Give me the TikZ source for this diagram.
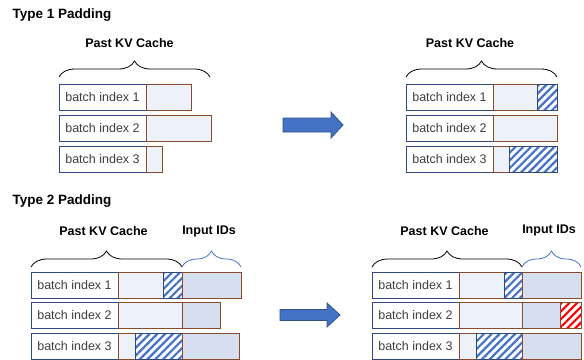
\documentclass[tikz,border=0pt]{standalone}
\usepackage{fontspec}
\setmainfont{Liberation Sans}
\usetikzlibrary{positioning,decorations.pathreplacing,patterns.meta}
\definecolor{navy}{HTML}{2F4A7A}
\definecolor{kvedge}{HTML}{8A4B2A}
\definecolor{kvfill}{HTML}{EDF1F9}
\definecolor{idsfill}{HTML}{D6DFF0}
\definecolor{padblue}{HTML}{4472C4}
\definecolor{arrowedge}{HTML}{2F528F}
\definecolor{txtgray}{HTML}{3F3F3F}
\tikzset{
  cell/.style={draw, line width=1pt, minimum height=26pt, inner sep=0pt, outer sep=0pt},
  idx/.style={cell, draw=navy, fill=white, minimum width=87pt, text=txtgray,
    font=\fontsize{12.5}{13}\selectfont},
  kv/.style={cell, draw=kvedge, fill=kvfill},
  ids/.style={cell, draw=kvedge, fill=idsfill},
  pad/.style={cell, draw=navy, pattern={Lines[angle=45,distance=5.5pt,line width=2.2pt]}, pattern color=padblue},
  padred/.style={cell, draw=kvedge, pattern={Lines[angle=45,distance=5.5pt,line width=2.2pt]}, pattern color=red},
  brc/.style={decorate, decoration={brace, amplitude=16pt}, line width=0.8pt},
  hdr/.style={font=\bfseries\fontsize{12.5}{14}\selectfont},
  ttl/.style={anchor=west, font=\bfseries\fontsize{13.5}{15}\selectfont},
  bigarrow/.style={fill=padblue, draw=arrowedge, line width=0.8pt},
}
\begin{document}
\begin{tikzpicture}[x=1pt,y=-1pt]
\useasboundingbox (0,0) rectangle (584,359);
\clip (0,0) rectangle (584,359);

% type 1
\node[ttl] (t1) at (9,15) {Type 1 Padding};

\node[hdr] (h1) at (129.5,43) {Past KV Cache};
\coordinate (bl1) at (59,77);
\coordinate (br1) at (210,77);
\draw[brc] (bl1) -- (br1);

\node[idx, anchor=north west] (a1) at (59,84) {batch index 1};
\node[kv, minimum width=45pt, right=0pt of a1] (b1) {};
\node[idx, anchor=north west] (a2) at (59,115) {batch index 2};
\node[kv, minimum width=65pt, right=0pt of a2] (b2) {};
\node[idx, anchor=north west] (a3) at (59,146) {batch index 3};
\node[kv, minimum width=16pt, right=0pt of a3] (b3) {};

\draw[bigarrow] (283,118) -- (331,118) -- (331,112) -- (343,125)
  -- (331,138) -- (331,132) -- (283,132) -- cycle;

\node[hdr] (h2) at (470,43) {Past KV Cache};
\coordinate (bl2) at (406,77);
\coordinate (br2) at (557,77);
\draw[brc] (bl2) -- (br2);

\node[idx, anchor=north west] (c1) at (406,84) {batch index 1};
\node[kv, minimum width=44pt, right=0pt of c1] (d1) {};
\node[pad, minimum width=20pt, right=0pt of d1] (e1) {};
\node[idx, anchor=north west] (c2) at (406,115) {batch index 2};
\node[kv, minimum width=64pt, right=0pt of c2] (d2) {};
\node[idx, anchor=north west] (c3) at (406,146) {batch index 3};
\node[kv, minimum width=16pt, right=0pt of c3] (d3) {};
\node[pad, minimum width=48pt, right=0pt of d3] (e3) {};

% type 2
\node[ttl] (t2) at (9,201) {Type 2 Padding};

\node[hdr] (h3) at (103.5,231) {Past KV Cache};
\node[hdr] (h4) at (209,231) {Input IDs};
\coordinate (bl3) at (31,267);
\coordinate (bm3) at (182,267);
\coordinate (br3) at (241,267);
\draw[brc] (bl3) -- (bm3);
\draw[brc, padblue] (bm3) -- (br3);

\node[idx, anchor=north west] (f1) at (31,272) {batch index 1};
\node[kv, minimum width=45pt, right=0pt of f1] (g1) {};
\node[pad, minimum width=19pt, right=0pt of g1] (p1) {};
\node[ids, minimum width=59pt, right=0pt of p1] (i1) {};
\node[idx, anchor=north west] (f2) at (31,302.5) {batch index 2};
\node[kv, minimum width=64pt, right=0pt of f2] (g2) {};
\node[ids, minimum width=38pt, right=0pt of g2] (i2) {};
\node[idx, anchor=north west] (f3) at (31,333) {batch index 3};
\node[kv, minimum width=17pt, right=0pt of f3] (g3) {};
\node[pad, minimum width=47pt, right=0pt of g3] (p3) {};
\node[ids, minimum width=57pt, right=0pt of p3] (i3) {};

\draw[bigarrow] (280,309.5) -- (327,309.5) -- (327,303) -- (340,315)
  -- (327,327) -- (327,320.5) -- (280,320.5) -- cycle;

\node[hdr] (h5) at (444.5,231) {Past KV Cache};
\node[hdr] (h6) at (549,230) {Input IDs};
\coordinate (bl4) at (372,267);
\coordinate (bm4) at (522,267);
\coordinate (br4) at (581,267);
\draw[brc] (bl4) -- (bm4);
\draw[brc, padblue] (bm4) -- (br4);

\node[idx, anchor=north west] (m1) at (372,272) {batch index 1};
\node[kv, minimum width=45pt, right=0pt of m1] (n1) {};
\node[pad, minimum width=18pt, right=0pt of n1] (q1) {};
\node[ids, minimum width=59pt, right=0pt of q1] (r1) {};
\node[idx, anchor=north west] (m2) at (372,302.5) {batch index 2};
\node[kv, minimum width=63pt, right=0pt of m2] (n2) {};
\node[ids, minimum width=38pt, right=0pt of n2] (r2) {};
\node[padred, minimum width=21pt, right=0pt of r2] (s2) {};
\node[idx, anchor=north west] (m3) at (372,333) {batch index 3};
\node[kv, minimum width=17pt, right=0pt of m3] (n3) {};
\node[pad, minimum width=46pt, right=0pt of n3] (q3) {};
\node[ids, minimum width=59pt, right=0pt of q3] (r3) {};
\end{tikzpicture}
\end{document}
